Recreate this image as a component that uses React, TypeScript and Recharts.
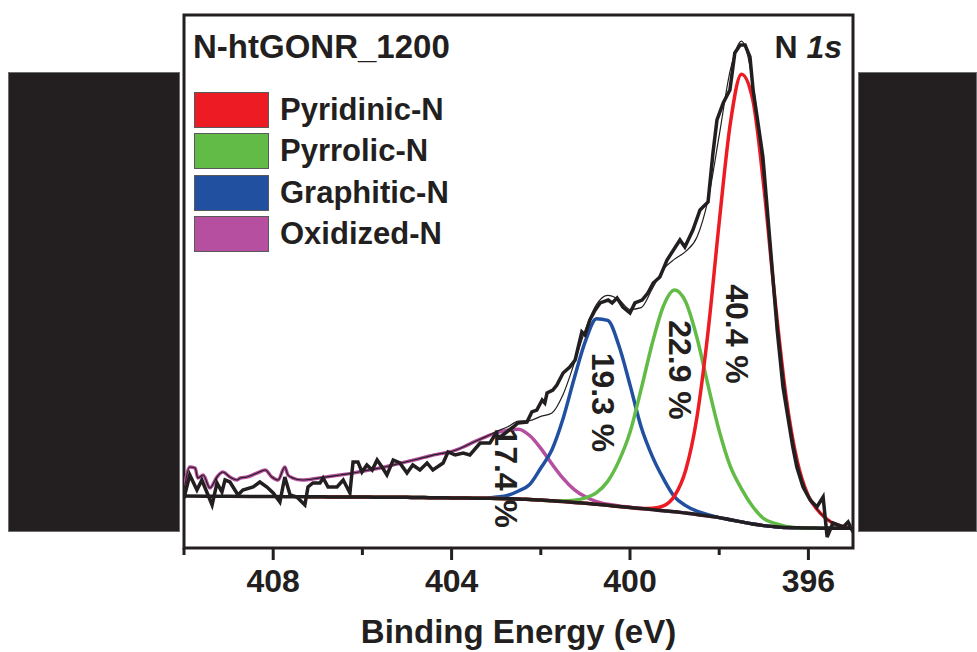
import { LineChart, Line, XAxis, YAxis, ReferenceArea, ReferenceDot, Legend } from "recharts";

const FONT = '"Liberation Sans", Arial, Helvetica, sans-serif';
const INK = "#231f20";

// fitted curves share one energy grid (eV)
const FIT_ENERGY = [
  395, 395.25, 395.5, 395.75, 396, 396.25, 396.5, 396.75, 397, 397.25,
  397.5, 397.75, 398, 398.25, 398.5, 398.75, 399, 399.25, 399.5, 399.75,
  400, 400.25, 400.5, 400.75, 401, 401.25, 401.5, 401.75, 402, 402.25,
  402.5, 402.75, 403, 403.25, 403.5, 403.75, 404, 404.25, 404.5, 404.75,
  405, 405.25, 405.5, 405.75, 406, 406.25, 406.5, 406.75, 407, 407.25,
];

const BACKGROUND = [
  3.7, 3.7, 3.7, 3.72, 3.75, 3.8, 3.85, 4.0, 4.2, 4.5,
  4.9, 5.3, 5.7, 6.0, 6.3, 6.55, 6.8, 7.0, 7.2, 7.4,
  7.6, 7.8, 8.0, 8.2, 8.4, 8.55, 8.7, 8.85, 9.0, 9.1,
  9.2, 9.25, 9.3, 9.32, 9.35, 9.38, 9.4, 9.42, 9.45, 9.47,
  9.5, 9.51, 9.52, 9.54, 9.55, 9.56, 9.57, 9.59, 9.6, 9.61,
];
const BACKGROUND_END_E = [408, 409, 410];
const BACKGROUND_END = [9.65, 9.7, 9.75];

const PYRIDINIC = [
  3.8, 4.1, 4.9, 6.7, 9.75, 16.3, 28.35, 46.7, 67.8, 84.2,
  88.9, 79.7, 61.1, 40.6, 24.5, 14.65, 9.8, 7.9, 7.45, 7.4,
  7.6, 7.8, 8.0, 8.2, 8.4, 8.55, 8.7, 8.85, 9.0, 9.1,
  9.2, 9.25, 9.3, 9.32, 9.35, 9.38, 9.4, 9.42, 9.45, 9.47,
  9.5, 9.51, 9.52, 9.54, 9.55, 9.56, 9.57, 9.59, 9.6, 9.61,
];

const PYRROLIC = [
  3.7, 3.7, 3.7, 3.72, 3.75, 3.8, 4.05, 4.6, 5.5, 7.8,
  11.1, 15.3, 22.0, 30.5, 39.5, 46.15, 48.4, 45.4, 38.4, 29.8,
  21.7, 16.3, 12.5, 10.4, 9.4, 8.95, 8.85, 8.85, 9.0, 9.1,
  9.2, 9.25, 9.3, 9.32, 9.35, 9.38, 9.4, 9.42, 9.45, 9.47,
  9.5, 9.51, 9.52, 9.54, 9.55, 9.56, 9.57, 9.59, 9.6, 9.61,
];

const GRAPHITIC = [
  3.7, 3.7, 3.7, 3.72, 3.75, 3.8, 3.85, 4.0, 4.2, 4.5,
  4.9, 5.3, 5.7, 6.25, 6.9, 7.95, 9.6, 13.0, 17.2, 22.7,
  30.6, 38.0, 42.7, 43.0, 38.8, 31.85, 24.3, 18.45, 15.0, 11.9,
  10.7, 9.85, 9.55, 9.32, 9.35, 9.38, 9.4, 9.42, 9.45, 9.47,
  9.5, 9.51, 9.52, 9.54, 9.55, 9.56, 9.57, 9.59, 9.6, 9.61,
];

const OXIDIZED = [
  3.7, 3.7, 3.7, 3.72, 3.75, 3.8, 3.85, 4.0, 4.2, 4.5,
  4.9, 5.3, 5.7, 6.0, 6.3, 6.55, 6.8, 7.0, 7.2, 7.4,
  7.65, 7.9, 8.2, 8.7, 9.6, 10.95, 13.05, 15.75, 18.7, 21.1,
  22.3, 22.1, 21.6, 20.8, 19.9, 18.9, 18.1, 17.7, 17.25, 16.7,
  16.2, 15.7, 15.2, 14.8, 14.4, 14.0, 13.7, 13.4, 13.1, 12.8,
];

const ENVELOPE = [
  3.8, 4.1, 4.9, 6.7, 9.75, 16.3, 28.55, 47.3, 69.1, 87.5,
  95.1, 89.7, 77.4, 65.35, 58.3, 55.65, 54.2, 52.3, 48.65, 45.1,
  44.75, 46.6, 47.4, 45.7, 40.97, 34.65, 28.8, 25.35, 24.7, 23.9,
  23.8, 22.7, 21.85, 20.8, 19.9, 18.9, 18.1, 17.7, 17.25, 16.7,
  16.2, 15.7, 15.2, 14.8, 14.4, 14.0, 13.7, 13.4, 13.1, 12.8,
];

// noisy high-energy end of the oxidized / envelope trace
const TAIL_ENERGY = [
  407.35, 407.56, 407.67, 407.74, 407.89, 408.03, 408.18, 408.36, 408.59, 408.74,
  408.81, 408.97, 409.13, 409.26, 409.42, 409.57, 409.69, 409.75, 409.87, 410,
];
const TAIL = [
  12.76, 13.13, 13.7, 15.2, 12.76, 13.32, 14.63, 14.07, 13.32, 13.13,
  12.76, 13.32, 14.26, 13.32, 11.26, 13.7, 13.13, 15.0, 15.2, 10.88,
];

// measured spectrum
const RAW_ENERGY = [
  395, 395.11, 395.22, 395.45, 395.58, 395.67, 395.81, 395.96, 396.12, 396.26,
  396.35, 396.57, 396.7, 396.86, 397.02, 397.15, 397.24, 397.31, 397.42, 397.53,
  397.65, 397.76, 397.91, 398.05, 398.14, 398.25, 398.43, 398.59, 398.77, 398.88,
  399.17, 399.33, 399.48, 399.6, 399.73, 399.89, 400, 400.16, 400.29, 400.4,
  400.49, 400.67, 400.78, 400.9, 401.01, 401.08, 401.23, 401.35, 401.5, 401.64,
  401.73, 401.86, 401.91, 401.97, 402.09, 402.2, 402.31, 402.51, 402.62, 402.91,
  403.03, 403.14, 403.36, 403.59, 403.74, 403.92, 404.08, 404.19, 404.42, 404.55,
  404.71, 404.87, 405, 405.16, 405.31, 405.45, 405.56, 405.67, 405.78, 405.9,
  406.01, 406.1, 406.21, 406.28, 406.43, 406.57, 406.77, 406.88, 406.95, 407.11,
  407.22, 407.29, 407.47, 407.62, 407.74, 407.85, 408, 408.14, 408.3, 408.45,
  408.68, 408.79, 408.97, 409.08, 409.15, 409.26, 409.37, 409.48, 409.6, 409.71,
  409.87, 410,
];
const RAW_COUNTS = [
  3.0, 4.88, 3.94, 4.69, 2.06, 9.57, 7.69, 9.0, 11.44, 15.2,
  18.95, 30.21, 40.9, 57.22, 73.36, 80.86, 85.93, 92.12, 94.37, 94.37,
  92.87, 85.93, 83.49, 80.3, 74.11, 64.92, 63.41, 59.66, 56.47, 57.79,
  54.03, 50.84, 49.72, 47.84, 46.53, 45.97, 44.09, 45.22, 46.9, 45.97,
  46.53, 45.97, 44.65, 42.78, 39.96, 40.53, 35.27, 33.96, 32.83, 30.58,
  29.64, 29.08, 27.2, 27.77, 25.89, 25.52, 23.64, 23.45, 22.7, 20.83,
  21.2, 19.7, 19.7, 17.45, 17.82, 17.45, 18.01, 15.95, 14.63, 15.95,
  14.63, 15.57, 14.07, 15.95, 16.51, 13.7, 15.2, 16.51, 14.63, 15.57,
  14.26, 16.14, 16.14, 10.32, 12.76, 11.44, 11.44, 13.13, 12.2, 12.2,
  11.44, 8.07, 9.57, 9.94, 13.32, 8.63, 10.32, 11.44, 12.38, 11.44,
  10.88, 9.94, 12.38, 12.76, 10.51, 12.2, 8.07, 10.32, 12.76, 10.88,
  13.7, 9.38,
];

const COMPONENT_NAMES = ["Pyridinic-N", "Pyrrolic-N", "Graphitic-N", "Oxidized-N"];
const COMPONENT_COLORS = ["#ed1c24", "#62bb46", "#2250a0", "#b64f9f"];

const SHARE_LABELS = ["40.4 %", "22.9 %", "19.3 %", "17.4 %"];
const SHARE_E = [397.6, 398.88, 400.6, 402.79];
const SHARE_V = [40.15, 33.4, 27.3, 13.1];

const MAJOR_TICKS = [396, 400, 404, 408];
const ALL_TICKS = [396, 398, 400, 402, 404, 406, 408, 410];

const toRows = (energy: number[], values: number[]) =>
  energy.map((e, i) => ({ e, v: values[i] }));

const rawRows = toRows(RAW_ENERGY, RAW_COUNTS);
const bgRows = toRows(FIT_ENERGY, BACKGROUND).concat(toRows(BACKGROUND_END_E, BACKGROUND_END));
const pyridinicRows = toRows(FIT_ENERGY, PYRIDINIC);
const pyrrolicRows = toRows(FIT_ENERGY, PYRROLIC);
const graphiticRows = toRows(FIT_ENERGY, GRAPHITIC);
const oxidizedRows = toRows(FIT_ENERGY, OXIDIZED).concat(toRows(TAIL_ENERGY, TAIL));
const envelopeRows = toRows(FIT_ENERGY, ENVELOPE).concat(toRows(TAIL_ENERGY, TAIL));

function EnergyTick(props: any) {
  const { x, y, payload } = props;
  const major = MAJOR_TICKS.includes(payload.value);
  return (
    <g>
      <line x1={x} x2={x} y1={y} y2={y + (major ? 12 : 7)} stroke={INK} strokeWidth={3} />
      {major ? (
        <text x={x} y={y + 44} textAnchor="middle" fontSize={32} fontWeight={700} fill={INK}>
          {payload.value}
        </text>
      ) : null}
    </g>
  );
}

function ShareLabel(props: any) {
  const vb = props.viewBox ?? props;
  const x = vb.x + (vb.width || 0) / 2;
  const y = vb.y + (vb.height || 0) / 2;
  return (
    <text
      x={x}
      y={y}
      transform={`rotate(90 ${x} ${y})`}
      textAnchor="middle"
      dominantBaseline="central"
      fontSize={32}
      fontWeight={700}
      fill={INK}
    >
      {props.text}
    </text>
  );
}

function LegendBox() {
  return (
    <div>
      {COMPONENT_NAMES.map((name, i) => (
        <div key={name} style={{ display: "flex", alignItems: "center", height: 36, marginBottom: 5.3 }}>
          <div
            style={{
              width: 75,
              height: 36,
              background: COMPONENT_COLORS[i],
              border: "1px solid #58595b",
              boxSizing: "border-box",
            }}
          />
          <span style={{ marginLeft: 11, fontSize: 31, lineHeight: "36px", fontWeight: 700, color: INK }}>
            {name}
          </span>
        </div>
      ))}
    </div>
  );
}

export default function App() {
  return (
    <div
      style={{
        position: "absolute",
        left: 0,
        top: 0,
        width: 977,
        height: 652,
        background: "#fff",
        fontFamily: FONT,
        overflow: "hidden",
      }}
    >
      <LineChart width={977} height={652} margin={{ top: 15, right: 124, bottom: 0, left: 184 }}>
        <XAxis
          type="number"
          dataKey="e"
          domain={[395, 410]}
          reversed
          allowDataOverflow
          ticks={ALL_TICKS}
          interval={0}
          axisLine={false}
          tickLine={false}
          tickSize={0}
          tickMargin={0}
          height={104}
          tick={<EnergyTick />}
          label={{
            value: "Binding Energy (eV)",
            position: "insideBottom",
            offset: 9,
            fontSize: 33,
            fontWeight: 700,
            fill: INK,
          }}
        />
        <YAxis type="number" domain={[0, 100]} hide allowDataOverflow />
        <ReferenceArea x1={395} x2={410} y1={0} y2={100} fill="none" stroke={INK} strokeWidth={3} />
        {SHARE_LABELS.map((text, i) => (
          <ReferenceDot
            key={text}
            x={SHARE_E[i]}
            y={SHARE_V[i]}
            r={0}
            fill="none"
            stroke="none"
            label={<ShareLabel text={text} />}
          />
        ))}
        <Line data={oxidizedRows} dataKey="v" type="monotone" stroke={COMPONENT_COLORS[3]} strokeWidth={3.5} dot={false} isAnimationActive={false} />
        <Line data={graphiticRows} dataKey="v" type="monotone" stroke={COMPONENT_COLORS[2]} strokeWidth={3.5} dot={false} isAnimationActive={false} />
        <Line data={pyrrolicRows} dataKey="v" type="monotone" stroke={COMPONENT_COLORS[1]} strokeWidth={3.5} dot={false} isAnimationActive={false} />
        <Line data={pyridinicRows} dataKey="v" type="monotone" stroke={COMPONENT_COLORS[0]} strokeWidth={3.5} dot={false} isAnimationActive={false} />
        <Line data={bgRows} dataKey="v" type="monotone" stroke={INK} strokeWidth={3.5} dot={false} isAnimationActive={false} />
        <Line data={rawRows} dataKey="v" type="linear" stroke={INK} strokeWidth={3.5} dot={false} isAnimationActive={false} />
        <Line data={envelopeRows} dataKey="v" type="monotone" stroke={INK} strokeWidth={1.2} dot={false} isAnimationActive={false} />
        <Legend
          layout="vertical"
          align="center"
          verticalAlign="middle"
          wrapperStyle={{ left: 194, top: 92, width: "auto" }}
          content={() => <LegendBox />}
        />
      </LineChart>

      <div style={{ position: "absolute", left: 193, top: 31, fontSize: 33, lineHeight: "32px", fontWeight: 700, color: INK }}>
        N-htGONR_1200
      </div>
      <div style={{ position: "absolute", right: 977 - 842, top: 31, fontSize: 32, lineHeight: "32px", fontWeight: 700, color: INK }}>
        N <i>1s</i>
      </div>

      <div style={{ position: "absolute", left: 8, top: 72, width: 172, height: 460, background: INK, border: "1px solid #6d6e71", boxSizing: "border-box" }} />
      <div style={{ position: "absolute", left: 858, top: 72, width: 119, height: 460, background: INK, border: "1px solid #6d6e71", boxSizing: "border-box" }} />
    </div>
  );
}
